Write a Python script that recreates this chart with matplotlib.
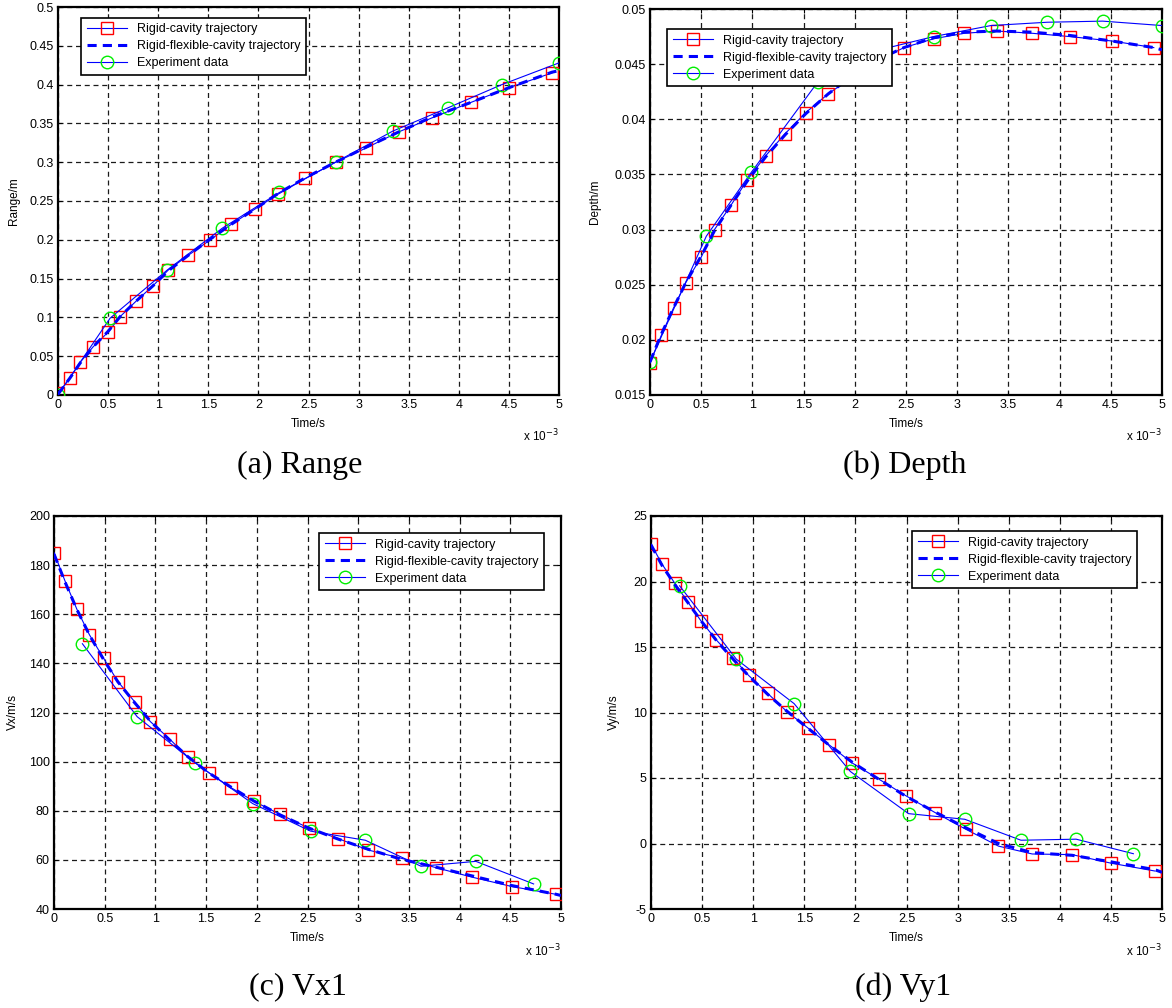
import matplotlib
matplotlib.use("Agg")
import matplotlib.pyplot as plt
from matplotlib.ticker import MultipleLocator, FuncFormatter

plt.rcParams['font.family'] = ['Liberation Sans', 'DejaVu Sans']

# time axis in units of 1e-3 s
range_t = [0, 0.12, 0.22, 0.35, 0.5, 0.62, 0.78, 0.95, 1.1, 1.3, 1.52, 1.73, 1.97, 2.2, 2.47, 2.77, 3.07, 3.4, 3.73, 4.12, 4.5, 4.93]
range_rigid = [0.002, 0.022, 0.042, 0.062, 0.081, 0.101, 0.121, 0.141, 0.161, 0.180, 0.200, 0.220, 0.240, 0.259, 0.279, 0.300, 0.318, 0.339, 0.357, 0.377, 0.396, 0.415]
range_flex_t = [0, 0.12, 0.22, 0.35, 0.5, 0.62, 0.78, 0.95, 1.1, 1.3, 1.52, 1.73, 1.97, 2.2, 2.47, 2.77, 3.07, 3.4, 3.73, 4.12, 4.5, 4.93, 5.0]
range_flex = [0.001, 0.022, 0.041, 0.062, 0.082, 0.101, 0.121, 0.141, 0.160, 0.180, 0.201, 0.220, 0.240, 0.260, 0.280, 0.300, 0.319, 0.339, 0.358, 0.377, 0.396, 0.416, 0.418]
range_exp_t = [0, 0.52, 1.09, 1.64, 2.21, 2.77, 3.34, 3.89, 4.43, 5.0]
range_exp = [0.0, 0.099, 0.161, 0.215, 0.261, 0.300, 0.340, 0.370, 0.400, 0.428]

depth_t = [0, 0.11, 0.23, 0.35, 0.5, 0.63, 0.79, 0.95, 1.13, 1.32, 1.52, 1.74, 1.97, 2.2, 2.48, 2.77, 3.07, 3.39, 3.73, 4.10, 4.51, 4.92]
depth_rigid = [0.0179, 0.0204, 0.0229, 0.0252, 0.0275, 0.0300, 0.0322, 0.0345, 0.0367, 0.0387, 0.0406, 0.0423, 0.0438, 0.0452, 0.0465, 0.0473, 0.0478, 0.0480, 0.0478, 0.0475, 0.0471, 0.0465]
depth_flex_t = [0, 0.11, 0.23, 0.35, 0.5, 0.63, 0.79, 0.95, 1.13, 1.32, 1.52, 1.74, 1.97, 2.2, 2.48, 2.77, 3.07, 3.39, 3.73, 4.10, 4.51, 4.92, 5.0]
depth_flex = [0.0180, 0.0205, 0.0229, 0.0252, 0.0276, 0.0299, 0.0322, 0.0344, 0.0366, 0.0386, 0.0405, 0.0423, 0.0439, 0.0453, 0.0465, 0.0474, 0.0479, 0.0480, 0.0479, 0.0476, 0.0471, 0.0465, 0.0463]
depth_exp_t = [0, 0.55, 0.99, 1.64, 2.2, 2.77, 3.33, 3.88, 4.42, 5.0]
depth_exp = [0.0180, 0.0294, 0.0352, 0.0434, 0.0462, 0.0475, 0.0485, 0.0488, 0.0489, 0.0485]

vx_t = [0, 0.11, 0.225, 0.35, 0.49, 0.63, 0.795, 0.95, 1.14, 1.32, 1.53, 1.75, 1.97, 2.23, 2.51, 2.80, 3.10, 3.43, 3.77, 4.12, 4.52, 4.95]
vx_rigid = [185.1, 173.4, 162.1, 151.6, 142.0, 132.6, 124.4, 116.3, 109.2, 101.9, 95.4, 89.3, 83.9, 78.5, 73.0, 68.7, 64.0, 60.6, 56.8, 53.0, 49.1, 46.0]
vx_flex_t = [0, 0.11, 0.225, 0.35, 0.49, 0.63, 0.795, 0.95, 1.14, 1.32, 1.53, 1.75, 1.97, 2.23, 2.51, 2.80, 3.10, 3.43, 3.77, 4.12, 4.52, 4.95, 5.0]
vx_flex = [184.5, 173.0, 162.0, 151.5, 141.5, 132.5, 124.0, 116.5, 108.8, 102.0, 95.3, 89.5, 84.0, 78.3, 73.0, 68.5, 64.3, 60.2, 57.0, 53.5, 49.5, 46.0, 45.5]
vx_exp_t = [0.28, 0.82, 1.39, 1.96, 2.53, 3.07, 3.62, 4.16, 4.73]
vx_exp = [148.0, 118.3, 99.5, 82.9, 71.7, 68.0, 57.4, 59.4, 50.2]

vy_t = [0, 0.11, 0.23, 0.36, 0.49, 0.64, 0.80, 0.955, 1.14, 1.33, 1.535, 1.745, 1.97, 2.23, 2.495, 2.78, 3.08, 3.4, 3.73, 4.12, 4.5, 4.93]
vy_rigid = [22.86, 21.3, 19.9, 18.44, 16.98, 15.53, 14.18, 12.83, 11.47, 10.07, 8.82, 7.52, 6.14, 4.91, 3.64, 2.36, 1.09, -0.2, -0.8, -0.85, -1.5, -2.1]
vy_flex_t = [0, 0.11, 0.23, 0.36, 0.49, 0.64, 0.80, 0.955, 1.14, 1.33, 1.535, 1.745, 1.97, 2.23, 2.495, 2.78, 3.08, 3.4, 3.73, 4.12, 4.5, 4.93, 5.0]
vy_flex = [22.8, 21.2, 19.8, 18.4, 17.0, 15.5, 14.1, 12.8, 11.4, 10.1, 8.8, 7.5, 6.2, 4.9, 3.6, 2.4, 1.2, 0.0, -0.7, -0.9, -1.4, -2.0, -2.2]
vy_exp_t = [0.28, 0.835, 1.40, 1.95, 2.52, 3.07, 3.62, 4.16, 4.72]
vy_exp = [19.67, 14.07, 10.68, 5.5, 2.28, 1.85, 0.25, 0.33, -0.78]

W, H = 1172, 1008
fig = plt.figure(figsize=(W / 100, H / 100), dpi=100)


def px_axes(left, top, right, bottom):
    return fig.add_axes([left / W, 1 - bottom / H, (right - left) / W, (bottom - top) / H])


def fmt(v, pos):
    return '%g' % round(v, 6)


def draw_panel(ax, t, rigid, flex_t, flex, exp_t, exp, ylim, ystep, ylabel, ylabel_x, leg_loc, leg_anchor):
    ax.plot(t, rigid, '-', color='blue', lw=0.8, marker='s', ms=9, mfc='none', mec='red', mew=1.0,
            label='Rigid-cavity trajectory', zorder=3)
    ax.plot(flex_t, flex, '--', color='blue', lw=2.2, dashes=(3, 2), label='Rigid-flexible-cavity trajectory', zorder=4)
    ax.plot(exp_t, exp, '-', color='blue', lw=0.8, marker='o', ms=9, mfc='none', mec='#00ee00', mew=1.0,
            label='Experiment data', zorder=3)
    ax.set_xlim(0, 5)
    ax.set_ylim(*ylim)
    ax.xaxis.set_major_locator(MultipleLocator(0.5))
    ax.yaxis.set_major_locator(MultipleLocator(ystep))
    ax.xaxis.set_major_formatter(FuncFormatter(fmt))
    ax.yaxis.set_major_formatter(FuncFormatter(fmt))
    ax.grid(True, color='0.1', linestyle=(0, (4, 3)), linewidth=0.9)
    ax.tick_params(direction='in', length=3, labelsize=9, pad=3, top=True, right=True)
    for s in ax.spines.values():
        s.set_linewidth(1.6)
    ax.set_xlabel('Time/s', fontsize=8.5, labelpad=5)
    ax.set_ylabel(ylabel, fontsize=8.5)
    ax.yaxis.set_label_coords(ylabel_x, 0.5)
    ax.text(1.0, -0.085, r'x 10$^{-3}$', transform=ax.transAxes, ha='right', va='top', fontsize=8.5)
    leg = ax.legend(loc=leg_loc, bbox_to_anchor=leg_anchor, fontsize=9, fancybox=False, framealpha=1,
                    edgecolor='black', handlelength=3.2, handletextpad=0.8, borderpad=0.45,
                    labelspacing=0.4, borderaxespad=0)
    leg.get_frame().set_linewidth(1.2)
    leg.set_zorder(10)


ax_a = px_axes(58, 7, 559, 395)
draw_panel(ax_a, range_t, range_rigid, range_flex_t, range_flex, range_exp_t, range_exp,
           (0, 0.5), 0.05, 'Range/m', -0.075, 'upper left', (0.046, 0.972))

ax_b = px_axes(650, 9, 1162, 395)
draw_panel(ax_b, depth_t, depth_rigid, depth_flex_t, depth_flex, depth_exp_t, depth_exp,
           (0.015, 0.05), 0.005, 'Depth/m', -0.095, 'upper left', (0.033, 0.948))

ax_c = px_axes(54, 516, 561, 909)
draw_panel(ax_c, vx_t, vx_rigid, vx_flex_t, vx_flex, vx_exp_t, vx_exp,
           (40, 200), 20, 'Vx/m/s', -0.07, 'upper right', (0.966, 0.957))

ax_d = px_axes(651, 516, 1162, 909)
draw_panel(ax_d, vy_t, vy_rigid, vy_flex_t, vy_flex, vy_exp_t, vy_exp,
           (-5, 25), 5, 'Vy/m/s', -0.06, 'upper right', (0.951, 0.962))

cap = dict(ha='center', va='center', fontsize=23, family=['Liberation Serif', 'DejaVu Serif'])
fig.text(300 / W, 1 - 465 / H, '(a) Range', **cap)
fig.text(905 / W, 1 - 465 / H, '(b) Depth', **cap)
fig.text(298 / W, 1 - 987 / H, '(c) Vx1', **cap)
fig.text(903 / W, 1 - 987 / H, '(d) Vy1', **cap)

fig.savefig('out.png', dpi=100)
